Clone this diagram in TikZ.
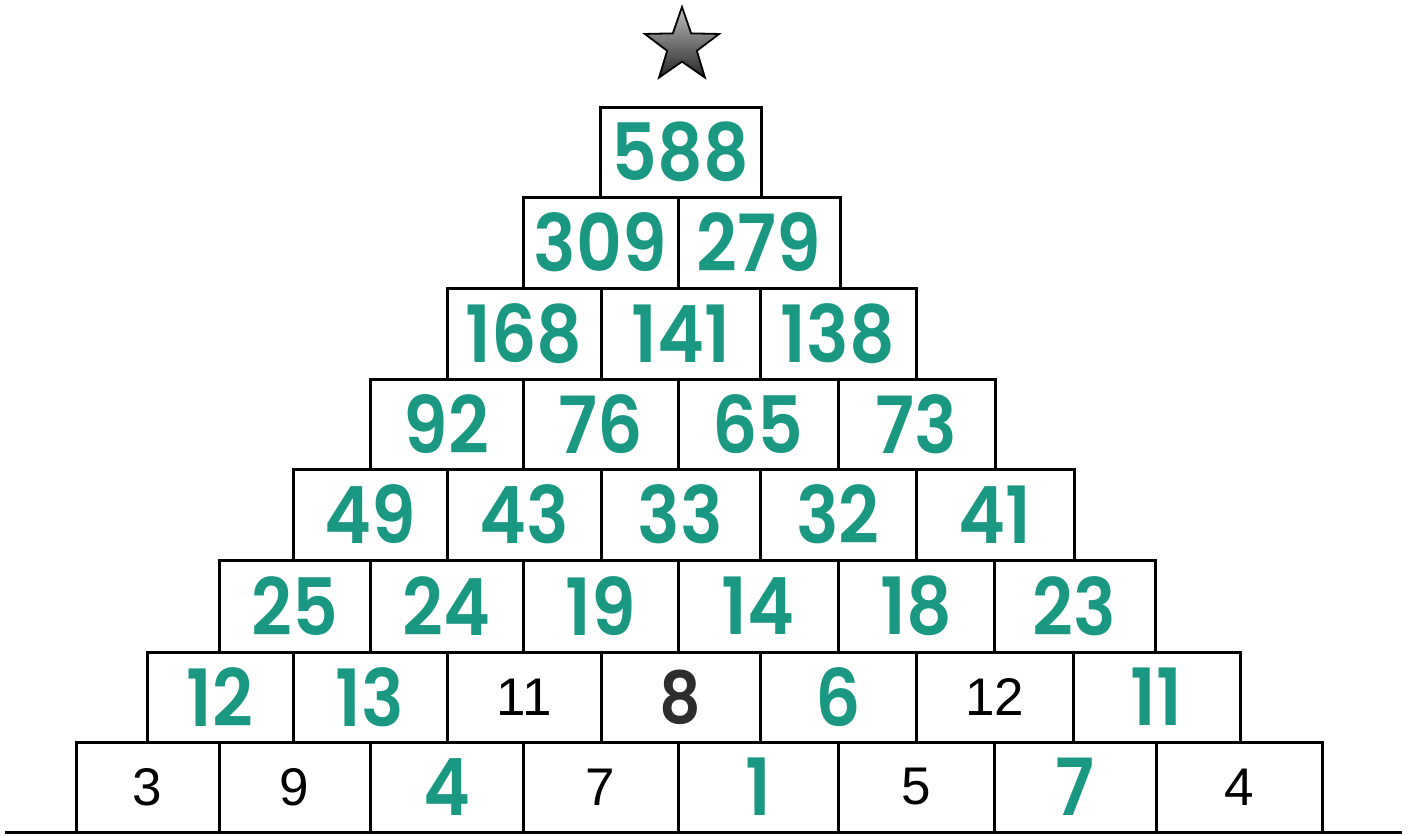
\documentclass[tikz,border=0pt]{standalone}
\usepackage{fontspec}
\setmainfont{Liberation Sans}
\newfontfamily\hand{Poppins}[UprightFont=* SemiBold, FakeStretch=0.9]
\usetikzlibrary{shapes.geometric}
\definecolor{marker}{RGB}{26,152,130}
\definecolor{pencil}{RGB}{45,45,45}
\tikzset{
  brick/.style={draw=black, line width=3pt, rectangle, inner sep=0pt},
  given/.style={font=\fontsize{53}{60}\selectfont, text=black},
  found/.style={font=\hand\fontsize{79}{90}\selectfont, text=marker},
  written/.style={font=\hand\fontsize{72}{90}\selectfont, text=pencil},
  ground/.style={draw=black, line width=3pt},
  topstar/.style={star, star points=5, star point ratio=2.5, minimum size=78pt, inner sep=0pt,
    draw=black, line width=1.8pt, top color=black!25, bottom color=black!85},
}
\newcommand\brick[7]{\node[brick,#6,minimum width={(#3-#2)*1pt},minimum height={(#5-#4)*1pt}] (#1) at ({(#2+#3)/2},{(#4+#5)/2}) {#7};}
\begin{document}
\begin{tikzpicture}[x=1pt,y=-1pt]
\useasboundingbox (0,0) rectangle (1413,835);
% star
\node[topstar] (star) at (682,46) {};
% row 1
\brick{a1}{600}{761}{107}{197}{found}{588}
% row 2
\brick{b1}{523}{678}{197}{288}{found}{309}
\brick{b2}{678}{840}{197}{288}{found}{279}
% row 3
\brick{c1}{447}{601}{288}{379}{found}{168}
\brick{c2}{601}{760}{288}{379}{found}{141}
\brick{c3}{760}{916}{288}{379}{found}{138}
% row 4
\brick{d1}{370}{523}{379}{469}{found}{92}
\brick{d2}{523}{678}{379}{469}{found}{76}
\brick{d3}{678}{838}{379}{469}{found}{65}
\brick{d4}{838}{995}{379}{469}{found}{73}
% row 5
\brick{e1}{293}{447}{469}{560}{found}{49}
\brick{e2}{447}{601}{469}{560}{found}{43}
\brick{e3}{601}{760}{469}{560}{found}{33}
\brick{e4}{760}{916}{469}{560}{found}{32}
\brick{e5}{916}{1074}{469}{560}{found}{41}
% row 6
\brick{f1}{219}{370}{560}{652}{found}{25}
\brick{f2}{370}{523}{560}{652}{found}{24}
\brick{f3}{523}{678}{560}{652}{found}{19}
\brick{f4}{678}{838}{560}{652}{found}{14}
\brick{f5}{838}{994}{560}{652}{found}{18}
\brick{f6}{994}{1155}{560}{652}{found}{23}
% row 7
\brick{g1}{147}{293}{652}{742}{found}{12}
\brick{g2}{293}{447}{652}{742}{found}{13}
\brick{g3}{447}{601}{652}{742}{given}{11}
\brick{g4}{601}{760}{652}{742}{written}{8}
\brick{g5}{760}{916}{652}{742}{found}{6}
\brick{g6}{916}{1073}{652}{742}{given}{12}
\brick{g7}{1073}{1240}{652}{742}{found}{11}
% row 8
\brick{h1}{76}{219}{742}{832}{given}{3}
\brick{h2}{219}{370}{742}{832}{given}{9}
\brick{h3}{370}{523}{742}{832}{found}{4}
\brick{h4}{523}{678}{742}{832}{given}{7}
\brick{h5}{678}{838}{742}{832}{found}{1}
\brick{h6}{838}{994}{742}{832}{given}{5}
\brick{h7}{994}{1156}{742}{832}{found}{7}
\brick{h8}{1156}{1322}{742}{832}{given}{4}
% ground line
\coordinate (gl) at (5,832);
\coordinate (gr) at (1402,832);
\draw[ground] (gl) -- (gr);
\end{tikzpicture}
\end{document}
